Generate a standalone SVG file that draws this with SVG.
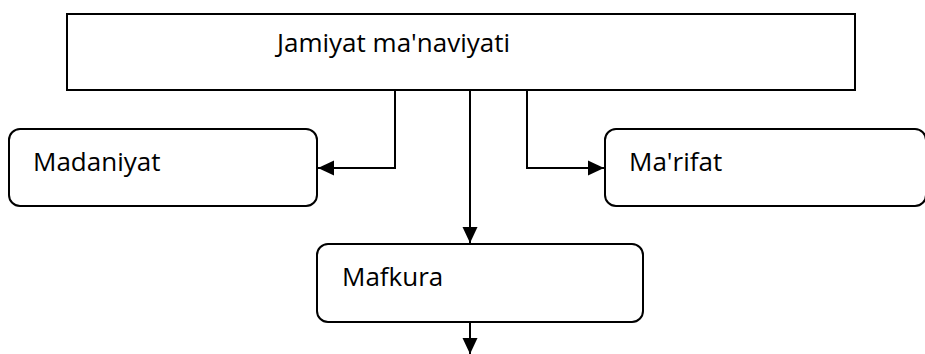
<svg xmlns="http://www.w3.org/2000/svg" width="925" height="354" viewBox="0 0 925 354">
  <style>
    .box { fill: #ffffff; stroke: #000000; stroke-width: 2; }
    .lbl { font-family: "Open Sans", "Liberation Sans", sans-serif; font-size: 26px; fill: #000000; }
    .conn { fill: none; stroke: #000000; stroke-width: 2; }
  </style>
  <defs>
    <marker id="arrow" markerUnits="userSpaceOnUse" markerWidth="16" markerHeight="16" viewBox="0 0 16 16" refX="16" refY="8" orient="auto">
      <path d="M0,0.5 L16,8 L0,15.5 Z" fill="#000000"/>
    </marker>
  </defs>
  <rect width="925" height="354" fill="#ffffff"/>
  <g id="node-jamiyat">
    <rect class="box" x="67" y="14" width="788" height="76"/>
    <text class="lbl" x="277" y="52">Jamiyat ma'naviyati</text>
  </g>
  <g id="node-madaniyat">
    <rect class="box" x="9" y="129" width="308" height="77" rx="11" ry="11"/>
    <text class="lbl" x="33" y="171">Madaniyat</text>
  </g>
  <g id="node-marifat">
    <rect class="box" x="605" y="129" width="321" height="77" rx="11" ry="11"/>
    <text class="lbl" x="629" y="171">Ma'rifat</text>
  </g>
  <g id="node-mafkura">
    <rect class="box" x="317" y="244" width="326" height="78" rx="11" ry="11"/>
    <text class="lbl" x="342" y="286">Mafkura</text>
  </g>
  <g id="connectors">
    <path class="conn" d="M395,90 L395,168 L318,168" marker-end="url(#arrow)"/>
    <path class="conn" d="M527,90 L527,168 L604,168" marker-end="url(#arrow)"/>
    <path class="conn" d="M470,90 L470,243" marker-end="url(#arrow)"/>
    <path class="conn" d="M470,322 L470,354" marker-end="url(#arrow)"/>
  </g>
</svg>
